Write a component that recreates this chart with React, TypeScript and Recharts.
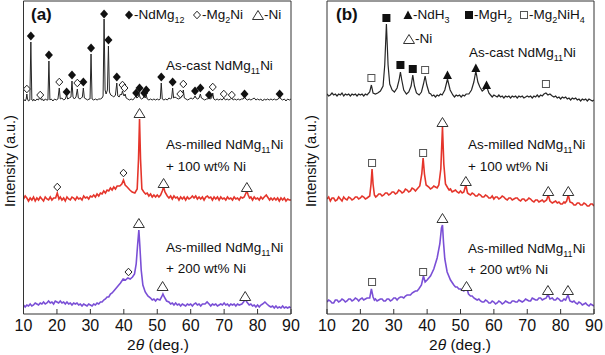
import React from "react";
import { ComposedChart, Line, Scatter, XAxis, YAxis } from "recharts";

type Pt = [number, number];

const xTicks = [10, 20, 30, 40, 50, 60, 70, 80, 90];

// vertical offsets of the stacked patterns (a.u.)
const OFF_CAST = 214;
const OFF_100 = 115;
const OFF_200 = 8;

// ---------- panel (a) patterns ----------
const castA: Pt[] = [
  [10, 1], [10.5, -1], [10.8, 1], [11.0, 6], [11.2, 1], [11.5, -1], [11.9, 0], [12.2, 58], [12.5, 0], [12.8, -1],
  [13, 1], [13.5, -1], [14, 1], [14.5, 0], [15.0, 4], [15.3, 0], [15.7, 1], [16, -1], [16.5, 1], [17, 0],
  [17.3, 0], [17.6, 39], [17.9, 0], [18.3, 1], [18.8, -1], [19.3, 1], [19.8, 0], [20.3, 1], [20.7, 12], [21.0, 1],
  [21.5, 2], [22, 0], [22.5, 1], [22.9, 5], [23.2, 1], [23.7, 2], [24.2, 3], [24.5, 19], [24.8, 3], [25.2, 1],
  [25.7, 3], [26.1, 11], [26.4, 2], [26.9, 1], [27.3, 2], [27.6, 3], [27.9, 12], [28.2, 2], [28.7, 1], [29.2, 0],
  [29.6, 1], [29.9, 1], [30.2, 46], [30.5, 1], [31, 0], [31.5, 1], [32, 0], [32.5, 1], [33, 1], [33.5, 2],
  [33.8, 4], [34.1, 81], [34.4, 10], [34.7, 6], [35.1, 10], [35.4, 54], [35.7, 8], [36.1, 5], [36.6, 4], [37, 3],
  [37.5, 5], [37.9, 17], [38.2, 4], [38.6, 3], [39, 6], [39.3, 5], [39.6, 9], [39.9, 5], [40.1, 4], [40.4, 6],
  [40.7, 2], [41.2, 1], [41.7, 0], [42.2, 1], [42.7, 0], [43.2, 2], [43.6, 4], [43.9, 2], [44.3, 3], [44.6, 6],
  [44.9, 2], [45.3, 1], [45.8, 2], [46.1, 4], [46.4, 2], [46.7, 5], [47.0, 1], [47.5, 0], [48, 1], [48.5, 0],
  [49, 1], [49.5, 0], [50, 1], [50.5, 0], [50.9, 1], [51.2, 17], [51.5, 1], [52, 0], [52.5, 1], [53, 0],
  [53.5, 2], [54, 1], [54.3, 2], [54.6, 12], [54.9, 2], [55.3, 3], [55.8, 2], [56.3, 1], [56.9, 2], [57.3, 3],
  [57.8, 10], [58.1, 2], [58.6, 1], [59.1, 0], [59.6, 1], [60.1, 2], [60.6, 1], [61, 2], [61.3, 4], [61.6, 2],
  [62.1, 1], [62.5, 2], [62.9, 6], [63.2, 2], [63.7, 1], [64.2, 0], [64.7, 1], [65.1, 1], [65.5, 3], [65.9, 1],
  [66.3, 2], [66.6, 7], [66.9, 1], [67.4, 0], [67.9, 1], [68.4, 0], [68.9, 1], [69.4, 0], [69.9, 2], [70.4, 0],
  [70.9, 1], [71.4, 0], [71.9, 1], [72.3, 2], [72.7, 0], [73.2, 1], [73.7, 0], [74.2, 1], [74.7, 0], [75.2, 1],
  [75.7, 1], [76.1, 3], [76.5, 1], [77, 0], [77.5, 1], [78, 0], [78.5, 1], [79, 2], [79.5, 0], [80, 1],
  [80.5, 0], [81, 1], [81.5, -1], [82, 1], [82.5, 0], [83, 1], [83.5, 0], [84, 1], [84.5, 0], [85, 1],
  [85.5, 0], [86.2, 1], [86.6, 3], [87, 1], [87.5, 0], [88, 1], [88.5, -1], [89, 1], [89.5, 0], [90, 1],
];

const milled100A: Pt[] = [
  [10, 0], [10.5, 3], [11, 1], [11.5, -2], [12, 1], [12.5, -1], [13, 2], [13.5, -2], [14, 1], [14.5, -1],
  [15, 2], [15.5, 0], [16, -2], [16.5, 2], [17, 0], [17.5, -1], [18, 2], [18.5, -1], [19, 1], [19.6, 1],
  [20.1, 6], [20.6, 0], [21, 2], [21.5, -1], [22, 1], [22.5, -2], [23, 2], [23.5, 0], [24, -1], [24.5, 2],
  [25, 1], [25.5, -1], [26, 2], [26.5, 0], [27, 1], [27.5, -1], [28, 3], [28.5, 1], [29, 2], [29.5, 0],
  [30, 3], [30.5, 2], [31, 4], [31.5, 2], [32, 5], [32.5, 3], [33, 6], [33.5, 5], [34, 8], [34.5, 6],
  [35, 9], [35.5, 8], [36, 11], [36.5, 9], [37, 12], [37.5, 10], [38, 13], [38.8, 13], [39.4, 15], [39.9, 19],
  [40.4, 14], [41, 12], [41.8, 9], [42.5, 7], [43.3, 6], [44, 10], [44.4, 40], [44.7, 80], [45.0, 40], [45.4, 10],
  [46, 7], [46.5, 5], [47, 6], [47.5, 3], [48, 5], [48.5, 2], [49, 4], [49.5, 2], [50, 4], [50.5, 2],
  [51, 4], [51.5, 8], [51.9, 12], [52.3, 7], [53, 3], [53.5, 1], [54, 3], [54.5, 0], [55, 3], [55.5, 1],
  [56, 2], [56.5, -1], [57, 2], [57.5, 0], [58, 2], [58.5, -1], [59, 2], [59.5, 0], [60, 1], [60.5, 3],
  [61, 1], [61.5, 3], [62, 0], [62.5, 2], [63, 0], [63.5, 2], [64, -1], [64.5, 2], [65, 3], [65.5, 1],
  [66, 2], [66.5, -1], [67, 2], [67.5, 0], [68, 2], [68.5, -1], [69, 2], [69.5, 0], [70, 1], [70.5, -1],
  [71, 2], [71.5, 0], [72, 1], [72.5, -1], [73, 2], [73.5, 0], [74, 1], [74.5, -1], [75, 2], [75.5, 1],
  [76, 2], [76.4, 5], [76.8, 8], [77.2, 4], [77.6, 1], [78, 2], [78.5, -1], [79, 2], [79.5, 0], [80, 1],
  [80.5, -1], [81, 2], [81.5, 0], [82, 2], [82.6, 4], [83.2, 1], [83.6, -1], [84, 1], [84.5, -1], [85, 1],
  [85.5, -1], [86, 1], [86.5, -2], [87, 1], [87.5, -1], [88, 1], [88.5, -2], [89, 0], [89.5, -1], [90, -1],
];

const milled200A: Pt[] = [
  [10, 1], [10.5, -1], [11, 1], [11.5, 0], [12, 2], [12.5, 0], [13, 1], [13.5, 3], [14, 2], [14.5, 1],
  [15, 3], [15.5, 2], [16, 4], [16.5, 2], [17, 3], [17.5, 5], [18, 3], [18.5, 4], [19, 2], [19.5, 5],
  [20, 4], [20.5, 3], [21, 5], [21.5, 3], [22, 4], [22.5, 2], [23, 4], [23.5, 2], [24, 3], [24.5, 1],
  [25, 3], [25.5, 2], [26, 3], [26.5, 1], [27, 2], [27.5, 0], [28, 2], [28.5, 1], [29, 0], [29.5, 2],
  [30, 1], [30.5, 0], [31, 2], [31.5, 1], [32, 3], [32.5, 2], [33, 4], [33.5, 4], [34, 6], [34.5, 7],
  [35, 9], [35.5, 9], [36, 12], [36.5, 13], [37, 15], [37.5, 17], [38, 19], [38.5, 21], [39, 23], [39.8, 27],
  [40.5, 26], [41.2, 28], [41.9, 27], [42.6, 29], [43.2, 32], [43.7, 42], [44.1, 60], [44.5, 76], [44.8, 60], [45.2, 36],
  [45.7, 21], [46.4, 14], [47.2, 10], [48, 8], [48.5, 6], [49, 7], [49.5, 5], [50, 7], [50.8, 6], [51.3, 9],
  [51.7, 12], [52.1, 9], [52.8, 5], [53.5, 4], [54, 2], [54.5, 3], [55, 1], [55.5, 3], [56, 1], [56.5, 2],
  [57, 0], [57.5, 2], [58, 1], [58.5, 0], [59, 2], [59.5, 1], [60, 2], [60.5, 0], [61, 2], [61.5, 3],
  [62, 1], [62.5, 2], [63, 0], [63.5, 2], [64.3, 2], [64.9, 4], [65.5, 2], [66, 0], [66.5, 2], [67, 1],
  [67.5, 2], [68, 0], [68.5, 1], [69, 2], [69.5, 1], [70, 3], [70.5, 1], [71, 2], [71.5, 0], [72, 2],
  [72.5, 1], [73, 2], [73.5, 0], [74, 2], [74.5, 1], [75.3, 2], [75.8, 4], [76.3, 7], [76.8, 4], [77.5, 1],
  [78, 2], [78.5, 0], [79, 1], [79.5, -1], [80, 1], [80.5, -1], [81, 1], [81.5, 2], [82.2, 4], [82.8, 2],
  [83.5, 0], [84, -1], [84.5, 0], [85, -2], [85.5, 0], [86, -2], [86.5, -1], [87, -2], [87.5, 0], [88, -2],
  [88.5, -1], [89, -2], [89.5, -1], [90, -2],
];

// phase markers (2θ, marker height)
const castA_NdMg12: Pt[] = [
  [12.2, 64], [17.6, 45], [22.9, 8], [24.5, 25], [27.9, 18], [30.2, 52], [34.1, 86], [35.4, 60], [37.9, 23], [43.7, 7],
  [44.7, 12], [46.1, 7], [46.7, 10], [51.2, 23], [54.6, 18], [61.3, 9], [62.9, 12], [65.5, 5], [76.1, 6], [86.6, 6],
];
const castA_Mg2Ni: Pt[] = [
  [11.0, 11], [15.0, 5], [20.7, 18], [26.1, 17], [39.6, 15], [40.2, 12], [56.9, 6], [57.8, 16], [66.6, 13], [69.9, 6], [72.3, 5],
];
const m100A_Mg2Ni: Pt[] = [[20.1, 12], [39.9, 26]];
const m100A_Ni: Pt[] = [[44.7, 86], [51.9, 16], [76.8, 12]];
const m200A_Mg2Ni: Pt[] = [[41.4, 34]];
const m200A_Ni: Pt[] = [[44.5, 83], [51.6, 20], [76.3, 10]];

// ---------- panel (b) patterns ----------
const castB: Pt[] = [
  [10, 6], [10.5, 4], [11, 5], [11.5, 7], [12, 5], [12.5, 6], [13, 4], [13.5, 6], [14, 5], [14.5, 7],
  [15, 4], [15.5, 6], [16, 5], [16.5, 6], [17, 4], [17.5, 6], [18, 5], [18.5, 6], [19, 4], [19.5, 6],
  [20, 5], [20.5, 6], [21, 4], [21.5, 6], [22, 5], [22.8, 8], [23.3, 15], [23.8, 7], [24.5, 6], [25.2, 7],
  [26, 9], [26.8, 14], [27.3, 35], [27.8, 76], [28.3, 35], [28.8, 16], [29.5, 10], [30.2, 8], [31, 12], [31.6, 20],
  [32.0, 28], [32.4, 20], [33, 10], [33.8, 6], [34.5, 8], [35.2, 14], [35.7, 25], [36.2, 14], [36.8, 7], [37.6, 5],
  [38.3, 8], [38.9, 16], [39.4, 24], [39.9, 15], [40.6, 7], [41.1, 6], [41.5, 4], [42, 5], [42.5, 3], [43, 5],
  [43.5, 4], [44, 6], [44.5, 5], [45.3, 10], [46.1, 21], [46.9, 10], [47.7, 5], [48.2, 3], [48.7, 5], [49.2, 4],
  [49.7, 5], [50.2, 3], [50.7, 5], [51.2, 4], [51.7, 6], [52.5, 6], [53.3, 10], [54.0, 18], [54.6, 29], [55.2, 18],
  [55.8, 13], [56.5, 9], [57.2, 11], [57.8, 14], [58.5, 7], [59, 5], [59.5, 3], [60, 5], [60.5, 4], [61, 3],
  [61.5, 5], [62, 3], [62.5, 4], [63, 2], [63.5, 4], [64, 3], [64.5, 4], [65, 2], [65.5, 4], [66, 3],
  [66.5, 4], [67, 2], [67.5, 4], [68, 3], [68.5, 4], [69, 2], [69.5, 3], [70, 4], [70.5, 3], [71, 4],
  [71.5, 2], [72, 4], [72.5, 3], [73, 5], [73.5, 3], [74, 5], [74.5, 4], [75, 6], [75.6, 7], [76.2, 5],
  [76.8, 6], [77.5, 4], [78, 3], [78.5, 4], [79, 2], [79.5, 3], [80, 1], [80.5, 3], [81, 2], [81.5, 3],
  [82, 1], [82.5, 2], [83, 0], [83.5, 2], [84, 1], [84.5, 2], [85, 0], [85.5, 1], [86, -1], [86.5, 1],
  [87, 0], [87.5, 1], [88, -1], [88.5, 1], [89, 0], [89.5, -1], [90, 0],
];

const milled100B: Pt[] = [
  [10, 0], [10.5, 2], [11, -2], [11.5, 1], [12, 1], [12.5, -2], [13, -1], [13.5, 2], [14, 0], [14.5, -2],
  [15, 2], [15.5, 0], [16, -1], [16.5, 2], [17, 1], [17.5, -1], [18, 0], [18.5, 2], [19, 2], [19.5, 0],
  [20, 1], [20.5, 3], [21, 2], [21.5, 0], [22, 1], [22.8, 3], [23.2, 15], [23.5, 30], [23.8, 15], [24.2, 4],
  [24.6, 2], [25, 3], [25.5, 5], [26, 5], [26.5, 3], [27, 4], [27.5, 6], [28, 6], [28.5, 4], [29, 5],
  [29.5, 7], [30, 7], [30.5, 5], [31, 6], [31.5, 9], [32, 8], [32.5, 6], [33, 7], [33.5, 10], [34, 9],
  [34.5, 7], [35, 8], [35.5, 11], [36, 10], [36.5, 8], [37, 10], [37.8, 13], [38.4, 25], [38.8, 41], [39.2, 25],
  [39.7, 14], [40.5, 12], [41, 10], [41.5, 11], [42, 13], [42.5, 12], [43, 11], [43.5, 14], [44.1, 30], [44.6, 72],
  [45.0, 35], [45.5, 15], [46.2, 11], [46.6, 9], [47, 10], [47.5, 7], [48, 8], [48.5, 9], [49, 7], [49.5, 6],
  [50, 8], [50.5, 6], [51, 7], [51.6, 14], [52.1, 6], [52.5, 5], [53, 4], [53.5, 6], [54, 5], [54.5, 3],
  [55, 3], [55.5, 5], [56, 4], [56.5, 2], [57, 2], [57.5, 4], [58, 3], [58.5, 1], [59, 1], [59.5, 3],
  [60, 0], [60.5, 2], [61, 2], [61.5, 0], [62, 1], [62.5, 3], [63, 2], [63.5, 0], [64, -1], [64.5, 1],
  [65, 1], [65.5, -1], [66, 0], [66.5, 1], [67, 1], [67.5, -1], [68, -2], [68.5, 0], [69, 0], [69.5, -2],
  [70, -1], [70.5, 1], [71, 0], [71.5, -2], [72, -3], [72.5, -1], [73, -1], [73.5, -3], [74, -2], [74.5, -1],
  [75, -3], [75.8, -1], [76.3, 4], [76.8, -2], [77.5, -4], [78, -3], [78.5, -2], [79, -4], [79.5, -3], [80, -5],
  [80.5, -5], [81, -3], [81.3, -4], [81.8, -2], [82.3, 4], [82.8, -3], [83.5, -4], [84, -6], [84.5, -6], [85, -4],
  [85.5, -4], [86, -6], [86.5, -6], [87, -4], [87.5, -5], [88, -7], [88.5, -7], [89, -5], [89.5, -5], [90, -7],
];

const milled200B: Pt[] = [
  [10, 4], [10.5, 6], [11, 5], [11.5, 3], [12, 3], [12.5, 6], [13, 6], [13.5, 4], [14, 5], [14.5, 7],
  [15, 6], [15.5, 4], [16, 5], [16.5, 7], [17, 7], [17.5, 5], [18, 6], [18.5, 8], [19, 7], [19.5, 5],
  [20, 7], [20.5, 8], [21, 6], [21.5, 7], [22, 8], [22.8, 8], [23.3, 17], [23.8, 9], [24.2, 6], [24.5, 7],
  [25, 5], [25.5, 6], [26, 7], [26.5, 7], [27, 5], [27.5, 5], [28, 7], [28.5, 7], [29, 5], [29.5, 6],
  [30, 8], [30.5, 8], [31, 6], [31.5, 8], [32, 9], [32.5, 9], [33, 8], [33.5, 10], [34, 11], [34.5, 11],
  [35, 11], [35.5, 13], [36, 14], [36.5, 15], [37, 15], [37.5, 17], [38.3, 21], [38.9, 30], [39.4, 24], [40, 26],
  [41, 30], [42, 37], [43, 48], [43.8, 62], [44.3, 78], [44.6, 81], [44.9, 64], [45.3, 47], [46, 34], [47, 26],
  [48, 21], [48.5, 19], [49, 19], [49.5, 17], [50, 17], [50.5, 16], [51, 15], [51.8, 19], [52.4, 12], [53, 10],
  [53.5, 10], [54, 8], [54.5, 7], [55, 6], [55.5, 7], [56, 5], [56.5, 4], [57, 4], [57.5, 6], [58, 5],
  [58.5, 3], [59, 3], [59.5, 5], [60, 4], [60.5, 2], [61, 3], [61.5, 5], [62, 4], [62.5, 2], [63, 3],
  [63.5, 5], [64, 4], [64.5, 3], [65, 3], [65.5, 5], [66, 5], [66.5, 4], [67, 4], [67.5, 6], [68, 5],
  [68.5, 4], [69, 5], [69.5, 7], [70, 6], [70.5, 5], [71, 5], [71.5, 8], [72, 7], [72.5, 6], [73, 6],
  [73.5, 8], [74, 8], [74.5, 6], [75, 7], [75.7, 8], [76.2, 12], [76.8, 7], [77.5, 8], [78, 6], [78.5, 6],
  [79, 8], [79.5, 7], [80, 5], [80.5, 5], [81, 7], [81.5, 6], [82.2, 11], [82.8, 5], [83.5, 4], [84, 5],
  [84.5, 3], [85, 2], [85.5, 4], [86, 3], [86.5, 1], [87, 2], [87.5, 3], [88, 1], [88.5, 0], [89, 2],
  [89.5, 1], [90, 0],
];

const castB_NdH3: Pt[] = [[46.1, 25], [54.6, 32], [57.8, 15]];
const castB_MgH2: Pt[] = [[27.8, 82], [32.0, 35], [35.7, 31]];
const castB_Mg2NiH4: Pt[] = [[23.3, 22], [39.4, 30], [75.6, 16]];
const m100B_Mg2NiH4: Pt[] = [[23.5, 36], [38.8, 46]];
const m100B_Ni: Pt[] = [[44.6, 77], [51.6, 18], [76.3, 8], [82.3, 8]];
const m200B_Mg2NiH4: Pt[] = [[23.5, 24], [38.8, 34]];
const m200B_Ni: Pt[] = [[44.6, 88], [51.8, 20], [76.2, 16], [82.2, 16]];

// ---------- styling ----------
const FONT = "'Liberation Sans', Arial, sans-serif";
const FRAME = "#333";
const BLACK = "#262626";
const RED = "#e5352b";
const PURPLE = "#7a4fd6";

type Kind = "dFill" | "dOpen" | "tOpen" | "tFill" | "sFill" | "sOpen";

function Marker({ cx, cy, kind }: { cx: number; cy: number; kind: Kind }) {
  switch (kind) {
    case "dFill":
      return <polygon points={`${cx},${cy - 4.5} ${cx + 4},${cy} ${cx},${cy + 4.5} ${cx - 4},${cy}`} fill="#111" />;
    case "dOpen":
      return (
        <polygon
          points={`${cx},${cy - 3.8} ${cx + 3.5},${cy} ${cx},${cy + 3.8} ${cx - 3.5},${cy}`}
          fill="#fff"
          stroke="#222"
          strokeWidth={1}
        />
      );
    case "tOpen":
      return (
        <polygon
          points={`${cx},${cy - 4.5} ${cx + 5.5},${cy + 4.5} ${cx - 5.5},${cy + 4.5}`}
          fill="#fff"
          stroke="#333"
          strokeWidth={1}
        />
      );
    case "tFill":
      return <polygon points={`${cx},${cy - 4.5} ${cx + 4.5},${cy + 4} ${cx - 4.5},${cy + 4}`} fill="#111" />;
    case "sFill":
      return <rect x={cx - 4} y={cy - 4} width={8} height={8} fill="#111" />;
    case "sOpen":
      return <rect x={cx - 3.5} y={cy - 3.5} width={7} height={7} fill="#fff" stroke="#555" strokeWidth={1} />;
  }
  return null;
}

function XTick(props: any) {
  const { x, y, payload } = props;
  return (
    <g>
      <line x1={x} x2={x} y1={y} y2={y - 5} stroke={FRAME} />
      <text x={x} y={y + 17} textAnchor="middle" fontSize={16} fontFamily={FONT} fill="#111">
        {payload.value}
      </text>
    </g>
  );
}

const toXY = (arr: Pt[], off: number) => arr.map(([x, v]) => ({ x, y: v + off }));

interface LineSpec {
  data: Pt[];
  off: number;
  color: string;
  width: number;
}
interface MarkSpec {
  data: Pt[];
  off: number;
  kind: Kind;
}

function Panel({
  left,
  width,
  margin,
  lines,
  marks,
}: {
  left: number;
  width: number;
  margin: { top: number; right: number; bottom: number; left: number };
  lines: LineSpec[];
  marks: MarkSpec[];
}) {
  return (
    <div style={{ position: "absolute", left, top: 0 }}>
      <ComposedChart width={width} height={355} margin={margin}>
        <XAxis
          xAxisId="b"
          type="number"
          dataKey="x"
          domain={[10, 90]}
          ticks={xTicks}
          interval={0}
          height={1}
          tickSize={0}
          tickMargin={0}
          tickLine={false}
          axisLine={{ stroke: FRAME }}
          tick={<XTick />}
          allowDataOverflow
        />
        <XAxis
          xAxisId="t"
          orientation="top"
          type="number"
          dataKey="x"
          domain={[10, 90]}
          height={1}
          tick={false}
          tickLine={false}
          axisLine={{ stroke: FRAME }}
        />
        <YAxis
          yAxisId="l"
          type="number"
          dataKey="y"
          domain={[0, 313]}
          width={1}
          tick={false}
          tickLine={false}
          axisLine={{ stroke: FRAME }}
          allowDataOverflow
        />
        <YAxis
          yAxisId="r"
          orientation="right"
          type="number"
          dataKey="y"
          domain={[0, 313]}
          width={1}
          tick={false}
          tickLine={false}
          axisLine={{ stroke: FRAME }}
        />
        {lines.map((l, i) => (
          <Line
            key={`l${i}`}
            xAxisId="b"
            yAxisId="l"
            data={toXY(l.data, l.off)}
            dataKey="y"
            type="linear"
            stroke={l.color}
            strokeWidth={l.width}
            dot={false}
            activeDot={false}
            isAnimationActive={false}
          />
        ))}
        {marks.map((m, i) => (
          <Scatter
            key={`m${i}`}
            xAxisId="b"
            yAxisId="l"
            data={toXY(m.data, m.off)}
            dataKey="y"
            isAnimationActive={false}
            shape={(p: any) => <Marker cx={p.cx} cy={p.cy} kind={m.kind} />}
          />
        ))}
      </ComposedChart>
    </div>
  );
}

function Txt({ x, y, size = 13.5, bold, children }: { x: number; y: number; size?: number; bold?: boolean; children: React.ReactNode }) {
  return (
    <div
      style={{
        position: "absolute",
        left: x,
        top: y - size * 0.6,
        fontSize: size,
        lineHeight: `${size * 1.2}px`,
        fontFamily: FONT,
        fontWeight: bold ? 700 : 400,
        whiteSpace: "nowrap",
        color: "#111",
      }}
    >
      {children}
    </div>
  );
}

const Sub = ({ children }: { children: React.ReactNode }) => (
  <span style={{ fontSize: 9, position: "relative", top: 4 }}>{children}</span>
);

function Sym({ cx, cy, kind }: { cx: number; cy: number; kind: Kind }) {
  return (
    <svg width={14} height={14} style={{ position: "absolute", left: cx - 7, top: cy - 7 }}>
      <Marker cx={7} cy={7} kind={kind} />
    </svg>
  );
}

function YTitle({ x, y }: { x: number; y: number }) {
  return (
    <div
      style={{
        position: "absolute",
        left: x,
        top: y,
        transform: "translate(-50%, -50%) rotate(-90deg)",
        fontSize: 14.5,
        fontFamily: FONT,
        whiteSpace: "nowrap",
        color: "#111",
      }}
    >
      Intensity (a.u.)
    </div>
  );
}

function XTitle({ x, y }: { x: number; y: number }) {
  return (
    <div
      style={{
        position: "absolute",
        left: x,
        top: y,
        transform: "translate(-50%, -50%)",
        fontSize: 15.5,
        lineHeight: "16px",
        fontFamily: FONT,
        whiteSpace: "nowrap",
        color: "#111",
      }}
    >
      2<i>θ</i> (deg.)
    </div>
  );
}

export default function App() {
  return (
    <div style={{ position: "absolute", left: 0, top: 0, width: 605, height: 355, background: "#fff", overflow: "hidden" }}>
      <Panel
        left={0}
        width={300}
        margin={{ top: 0, right: 8, bottom: 40, left: 22.5 }}
        lines={[
          { data: castA, off: OFF_CAST, color: BLACK, width: 1 },
          { data: milled100A, off: OFF_100, color: RED, width: 1.6 },
          { data: milled200A, off: OFF_200, color: PURPLE, width: 1.6 },
        ]}
        marks={[
          { data: castA_NdMg12, off: OFF_CAST, kind: "dFill" },
          { data: castA_Mg2Ni, off: OFF_CAST, kind: "dOpen" },
          { data: m100A_Mg2Ni, off: OFF_100, kind: "dOpen" },
          { data: m100A_Ni, off: OFF_100, kind: "tOpen" },
          { data: m200A_Mg2Ni, off: OFF_200, kind: "dOpen" },
          { data: m200A_Ni, off: OFF_200, kind: "tOpen" },
        ]}
      />
      <Panel
        left={300}
        width={305}
        margin={{ top: 0, right: 10, bottom: 40, left: 26 }}
        lines={[
          { data: castB, off: OFF_CAST, color: BLACK, width: 1.2 },
          { data: milled100B, off: OFF_100, color: RED, width: 1.6 },
          { data: milled200B, off: OFF_200, color: PURPLE, width: 1.6 },
        ]}
        marks={[
          { data: castB_NdH3, off: OFF_CAST, kind: "tFill" },
          { data: castB_MgH2, off: OFF_CAST, kind: "sFill" },
          { data: castB_Mg2NiH4, off: OFF_CAST, kind: "sOpen" },
          { data: m100B_Mg2NiH4, off: OFF_100, kind: "sOpen" },
          { data: m100B_Ni, off: OFF_100, kind: "tOpen" },
          { data: m200B_Mg2NiH4, off: OFF_200, kind: "sOpen" },
          { data: m200B_Ni, off: OFF_200, kind: "tOpen" },
        ]}
      />

      {/* panel (a) annotations */}
      <Txt x={31} y={15} size={17} bold>(a)</Txt>
      <Sym cx={129} cy={15} kind="dFill" />
      <Txt x={134} y={15}>-NdMg<Sub>12</Sub></Txt>
      <Sym cx={197} cy={15} kind="dOpen" />
      <Txt x={202} y={15}>-Mg<Sub>2</Sub>Ni</Txt>
      <Sym cx={258} cy={15} kind="tOpen" />
      <Txt x={264} y={15}>-Ni</Txt>
      <Txt x={166} y={66}>As-cast NdMg<Sub>11</Sub>Ni</Txt>
      <Txt x={166} y={145}>As-milled NdMg<Sub>11</Sub>Ni</Txt>
      <Txt x={166} y={167}>+ 100 wt% Ni</Txt>
      <Txt x={166} y={248}>As-milled NdMg<Sub>11</Sub>Ni</Txt>
      <Txt x={166} y={269}>+ 200 wt% Ni</Txt>
      <YTitle x={10} y={161} />
      <XTitle x={158} y={345} />

      {/* panel (b) annotations */}
      <Txt x={336} y={15} size={17} bold>(b)</Txt>
      <Sym cx={408} cy={15} kind="tFill" />
      <Txt x={413} y={15}>-NdH<Sub>3</Sub></Txt>
      <Sym cx={469} cy={15} kind="sFill" />
      <Txt x={474} y={15}>-MgH<Sub>2</Sub></Txt>
      <Sym cx={524} cy={15} kind="sOpen" />
      <Txt x={529} y={15}>-Mg<Sub>2</Sub>NiH<Sub>4</Sub></Txt>
      <Sym cx={409} cy={39} kind="tOpen" />
      <Txt x={415} y={39}>-Ni</Txt>
      <Txt x={469} y={53}>As-cast NdMg<Sub>11</Sub>Ni</Txt>
      <Txt x={468} y={145}>As-milled NdMg<Sub>11</Sub>Ni</Txt>
      <Txt x={468} y={167}>+ 100 wt% Ni</Txt>
      <Txt x={468} y={249}>As-milled NdMg<Sub>11</Sub>Ni</Txt>
      <Txt x={468} y={270}>+ 200 wt% Ni</Txt>
      <YTitle x={311} y={161} />
      <XTitle x={460} y={345} />
    </div>
  );
}
